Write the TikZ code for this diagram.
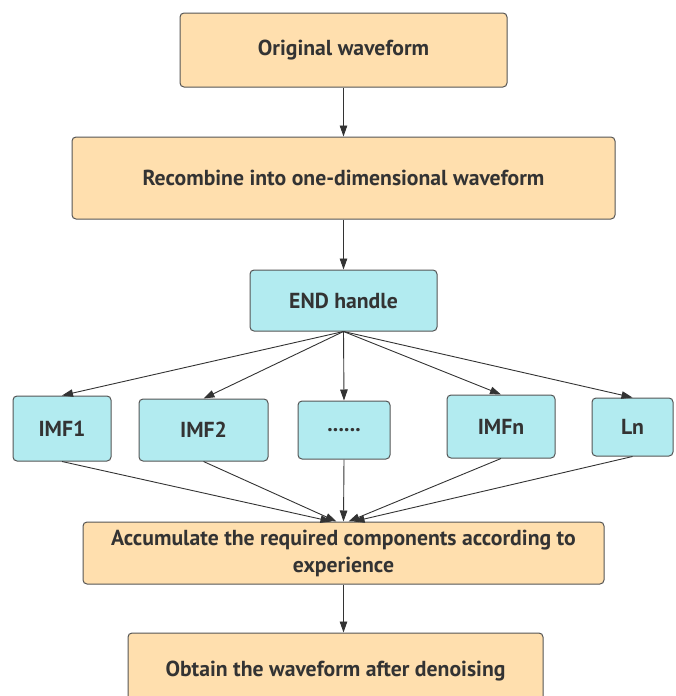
\documentclass[tikz,border=0pt]{standalone}
\usepackage{fontspec}
\setmainfont{PT Sans}
\usetikzlibrary{arrows.meta,calc}
\definecolor{orfill}{HTML}{FFDFAE}
\definecolor{cyfill}{HTML}{B2EBF0}
\definecolor{edge}{HTML}{555555}
\definecolor{txt}{HTML}{333333}
\tikzset{
  box/.style={draw=edge,line width=1pt,rounded corners=4pt,inner sep=0pt,
    font=\fontsize{21.7}{27}\selectfont\bfseries,text=txt,align=center},
  obox/.style={box,fill=orfill},
  cbox/.style={box,fill=cyfill},
  conn/.style={draw=txt,line width=0.9pt,-{Triangle[length=11pt,width=7.5pt]}}
}
\begin{document}
\begin{tikzpicture}[x=1pt,y=-1pt]
\useasboundingbox (0,0) rectangle (675,696);
\begin{scope}
\clip (0,0) rectangle (675,696);
\node[obox,minimum width=327pt,minimum height=74pt] (orig) at (343.5,50) {Original waveform};
\node[obox,minimum width=543pt,minimum height=82pt] (rec) at (343.5,178) {Recombine into one-dimensional waveform};
\node[cbox,minimum width=187pt,minimum height=61pt] (end) at (343.5,300.5) {END handle};
\node[cbox,minimum width=98pt,minimum height=65pt] (imf1) at (62,428.5) {IMF1};
\node[cbox,minimum width=129pt,minimum height=62pt] (imf2) at (203.5,430) {IMF2};
\node[cbox,minimum width=92pt,minimum height=58pt] (dots) at (344,430) {......};
\node[cbox,minimum width=108pt,minimum height=63pt] (imfn) at (501,426.5) {IMFn};
\node[cbox,minimum width=81pt,minimum height=58pt] (ln) at (632.5,427) {Ln};
\node[obox,minimum width=521pt,minimum height=62pt] (acc) at (343.5,553) {Accumulate the required components according to\\experience};
\node[obox,minimum width=415pt,minimum height=77pt] (obt) at (335.5,671.5) {Obtain the waveform after denoising};
\end{scope}
\draw[conn] (orig) -- (rec);
\draw[conn] (rec) -- (end);
\foreach \n in {imf1,imf2,dots,imfn,ln}{
  \draw[conn] (end.south) -- (\n.north);
}
\draw[conn] (imf1.south) -- ([xshift=-12pt]acc.north);
\draw[conn] (imf2.south) -- ([xshift=-7pt]acc.north);
\draw[conn] (dots.south) -- (acc.north);
\draw[conn] (imfn.south) -- ([xshift=5pt]acc.north);
\draw[conn] (ln.south) -- ([xshift=10pt]acc.north);
\draw[conn] (acc) -- (obt.north -| acc.south);
\end{tikzpicture}
\end{document}
